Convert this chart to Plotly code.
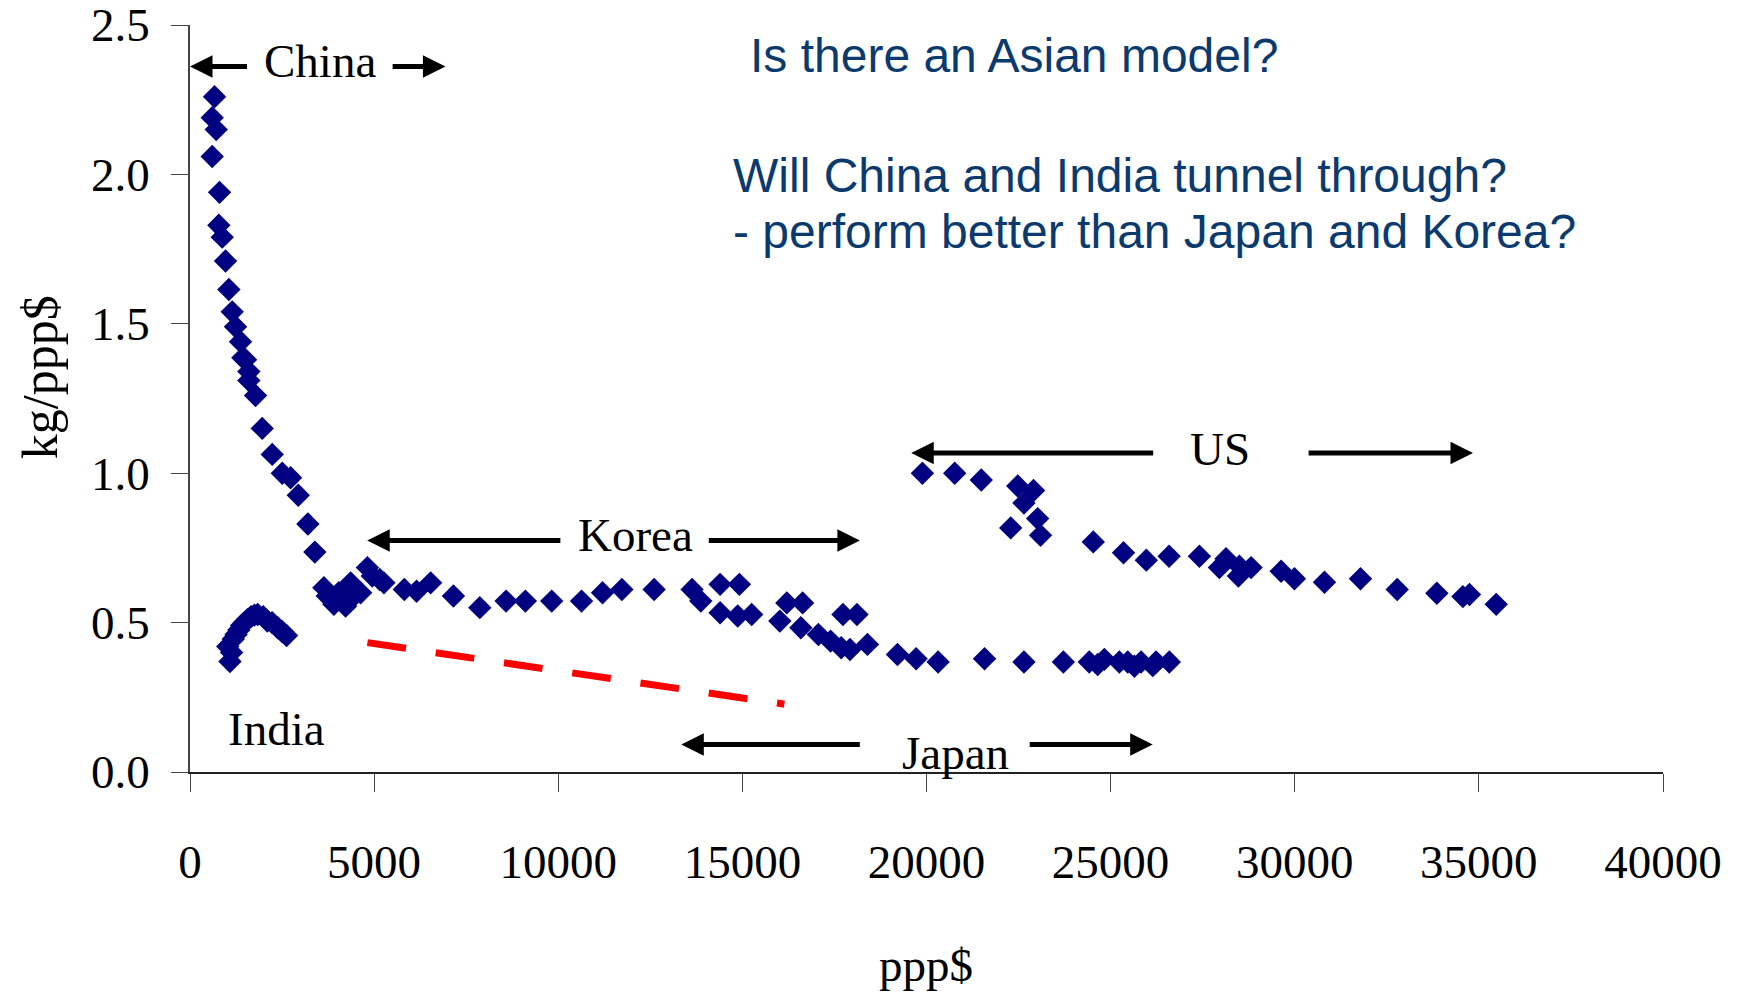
import plotly.graph_objects as go

# Energy intensity (kg per ppp$) against income per head (ppp$)
china_x = [666, 603, 712, 603, 802, 783, 875, 965, 1055, 1146, 1236, 1372, 1434, 1508, 1598, 1598,
           1780, 1961, 2233, 2505, 2731, 2940, 3201, 3391, 3635, 3727, 3908, 4043, 4225, 4361, 4451, 4633]
china_y = [2.26, 2.19, 2.15, 2.06, 1.94, 1.83, 1.79, 1.71, 1.615, 1.54, 1.49, 1.44, 1.386, 1.38, 1.34, 1.31,
           1.26, 1.15, 1.063, 1.0, 0.985, 0.926, 0.83, 0.736, 0.617, 0.589, 0.561, 0.60, 0.555, 0.633, 0.589, 0.60]

india_x = [1025, 1085, 1130, 1175, 1250, 1326, 1400, 1477, 1560, 1658, 1750, 1838, 1989, 2100, 2230, 2381, 2500, 2622]
india_y = [0.42, 0.37, 0.40, 0.445, 0.46, 0.475, 0.49, 0.50, 0.51, 0.52, 0.525, 0.527, 0.52, 0.505, 0.50, 0.483, 0.47, 0.457]

korea_x = [4008, 4247, 4818, 4950, 5152, 5266, 5820, 6152, 6535, 7154, 7869, 8583, 9107, 9822, 10632, 11203,
           11727, 12604, 13634, 13871, 14395, 14919, 14395, 14873, 15253, 16207, 16636, 17731, 18112]
korea_y = [0.594, 0.60, 0.684, 0.656, 0.644, 0.633, 0.611, 0.605, 0.633, 0.589, 0.55, 0.572, 0.572, 0.572, 0.572, 0.60,
           0.611, 0.611, 0.611, 0.572, 0.628, 0.628, 0.533, 0.522, 0.527, 0.566, 0.566, 0.527, 0.527]

japan_x = [16017, 16587, 17063, 17397, 17683, 17922, 18397, 19212, 19718, 20315, 21576, 22646, 23717,
           24420, 24648, 24829, 25237, 25465, 25646, 25827, 26144, 26234, 26594]
japan_y = [0.505, 0.483, 0.46, 0.438, 0.416, 0.41, 0.427, 0.393, 0.379, 0.368, 0.379, 0.368, 0.368,
           0.368, 0.36, 0.377, 0.368, 0.368, 0.354, 0.368, 0.356, 0.368, 0.368]

us_x = [19889, 20766, 21487, 22478, 22907, 22646, 22287, 23018, 23097, 24529, 25350, 25969, 26588, 27411,
        27953, 28134, 28469, 28496, 28814, 29630, 29992, 30807, 31785, 32782, 33859, 34566, 34745, 35471]
us_y = [1.0, 1.0, 0.977, 0.957, 0.942, 0.90, 0.817, 0.848, 0.792, 0.77, 0.734, 0.709, 0.722, 0.722,
        0.684, 0.714, 0.656, 0.689, 0.684, 0.672, 0.647, 0.635, 0.647, 0.611, 0.598, 0.587, 0.594, 0.561]

# Hypothetical lower path ("tunnel")
tunnel_x = [4818, 16140]
tunnel_y = [0.433, 0.227]

x_ticks = [0, 5000, 10000, 15000, 20000, 25000, 30000, 35000, 40000]
y_ticks = [0.0, 0.5, 1.0, 1.5, 2.0, 2.5]

NAVY = "#000080"
SERIF = "Liberation Serif, Times New Roman, serif"
SANS = "Liberation Sans, Arial, sans-serif"
BLUE_TXT = "#0B3A6E"

fig = go.Figure()
for name, xs, ys in [("China", china_x, china_y), ("India", india_x, india_y),
                     ("Korea", korea_x, korea_y), ("Japan", japan_x, japan_y), ("US", us_x, us_y)]:
    fig.add_trace(go.Scatter(x=xs, y=ys, mode="markers", name=name,
                             marker=dict(symbol="diamond", size=18, color=NAVY, line=dict(width=0))))

fig.add_trace(go.Scatter(x=tunnel_x, y=tunnel_y, mode="lines", name="tunnel",
                         line=dict(color="#FF0000", width=7, dash="39px,30px")))

annotations = []

# Country spans: label with double-headed arrow pieces
def span(label, xc, yc, y_arrow, left_tail, left_tip, right_tail, right_tip):
    annotations.append(dict(x=xc, y=yc, xref="x", yref="y", text=label, showarrow=False,
                            font=dict(family=SERIF, size=47, color="black"),
                            xanchor="center", yanchor="middle"))
    for tail, tip in [(left_tail, left_tip), (right_tail, right_tip)]:
        annotations.append(dict(x=tip, y=y_arrow, ax=tail, ay=y_arrow, xref="x", yref="y",
                                axref="x", ayref="y", text="", showarrow=True,
                                arrowhead=2, arrowsize=0.9, arrowwidth=5, arrowcolor="black"))

span("China", 3543, 2.378, 2.361, 1588, 0, 5462, 6936)
span("Korea", 12094, 0.792, 0.775, 10098, 4813, 14048, 18191)
span("US", 27974, 1.082, 1.0676, 26196, 19586, 30336, 34840)
span("Japan", 20800, 0.062, 0.092, 18229, 13342, 22762, 26142)

annotations.append(dict(x=2348, y=0.1455, xref="x", yref="y", text="India", showarrow=False,
                        font=dict(family=SERIF, size=47, color="black"),
                        xanchor="center", yanchor="middle"))

# Questions in the upper right
for txt, x0, y0 in [("Is there an Asian model?", 15150, 2.397),
                    ("Will China and India tunnel through?", 14700, 1.996),
                    ("- perform better than Japan and Korea?", 14700, 1.808)]:
    annotations.append(dict(x=x0, y=y0, xref="x", yref="y", text=txt, showarrow=False,
                            font=dict(family=SANS, size=48, color=BLUE_TXT),
                            xanchor="left", yanchor="middle"))

# Axis titles
annotations.append(dict(x=-0.1021, y=0.528, xref="paper", yref="paper", text="kg/ppp$",
                        showarrow=False, textangle=-90,
                        font=dict(family=SERIF, size=50, color="black"),
                        xanchor="center", yanchor="middle"))
annotations.append(dict(x=0.4995, y=-0.2589, xref="paper", yref="paper", text="ppp$",
                        showarrow=False,
                        font=dict(family=SERIF, size=47, color="black"),
                        xanchor="center", yanchor="middle"))

fig.update_layout(
    width=1743, height=995,
    margin=dict(l=189.5, r=80, t=25, b=222.5, autoexpand=False),
    paper_bgcolor="white", plot_bgcolor="white",
    showlegend=False,
    annotations=annotations,
    xaxis=dict(range=[0, 40000], tickvals=x_ticks, ticktext=[str(v) for v in x_ticks],
               showgrid=False, zeroline=False, showline=True, linecolor="#222222", linewidth=2,
               ticks="outside", ticklen=18, tickwidth=1, tickcolor="#444444",
               tickfont=dict(family=SERIF, size=47, color="black"), ticklabelstandoff=30,
               ticklabeloverflow="allow", automargin=False),
    yaxis=dict(range=[0, 2.5], tickvals=y_ticks, ticktext=[f"{v:.1f}" for v in y_ticks],
               showgrid=False, zeroline=False, showline=True, linecolor="#444444", linewidth=1.5,
               ticks="outside", ticklen=17, tickwidth=1, tickcolor="#444444",
               tickfont=dict(family=SERIF, size=47, color="black"), ticklabelstandoff=12,
               ticklabeloverflow="allow", automargin=False),
)

fig.write_html("out.html")
